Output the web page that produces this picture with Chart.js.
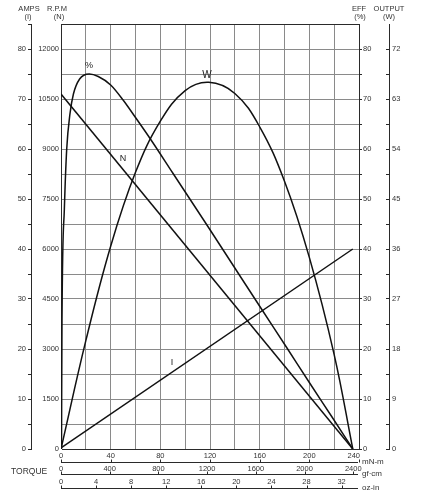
<!DOCTYPE html>
<html><head><meta charset="utf-8">
<script src="https://cdn.jsdelivr.net/npm/chart.js@4.4.1/dist/chart.umd.min.js"></script>
<style>html,body{margin:0;padding:0;background:#fff}canvas{display:block}</style>
</head><body>
<canvas id="c" width="424" height="500"></canvas>
<script>
// ---- data (torque in mN-m) ----
const speedTorque = [0, 235];
const speedRpm = [10650, 0];
const currentTorque = [0, 235];
const currentAmps = [0.2, 40];
const effTorque = [0.4, 0.8, 2.7, 4.6, 7.2, 10, 15, 22.8, 30, 40, 50, 60, 72, 90, 117, 140, 162, 182, 200, 218, 235];
const effPct    = [0, 26, 48, 60, 67, 71, 74, 75, 74.5, 72.8, 69.8, 66.3, 62, 55.2, 45, 36.2, 27.8, 20.2, 13.3, 6.5, 0];
const outTorque = [0, 20, 40, 60, 80, 100, 119, 140, 160, 180, 200, 220, 235];
const outWatts  = [0, 19.5, 36.5, 49.8, 59, 64.5, 66, 64, 58, 48.2, 34.5, 17, 0];

// ---- tick labels ----
const ampsLabels = [0, 10, 20, 30, 40, 50, 60, 70, 80];
const rpmLabels  = [0, 1500, 3000, 4500, 6000, 7500, 9000, 10500, 12000];
const effLabels  = [0, 10, 20, 30, 40, 50, 60, 70, 80];
const outLabels  = [0, 9, 18, 27, 36, 45, 54, 63, 72];
const mNmLabels  = [0, 40, 80, 120, 160, 200, 240];
const gfcmLabels = [0, 400, 800, 1200, 1600, 2000, 2400];
const ozinLabels = [0, 4, 8, 12, 16, 20, 24, 28, 32];

const FONT = "'Liberation Sans', Arial, Helvetica, sans-serif";
const TXT = '#333';
const GRID = '#8a8a8a';
const FRAME = '#2a2a2a';

function pts(xs, ys) { return xs.map((v, i) => ({ x: v, y: ys[i] })); }
function steps(a, b, s) { const r = []; for (let v = a; v <= b + 1e-9; v += s) r.push({ value: +v.toFixed(4) }); return r; }
function has(arr, v) { return arr.some(a => Math.abs(a - v) < 1e-6); }

const lineStyle = { borderColor: '#111', borderWidth: 1.5, pointRadius: 0, fill: false };

const annot = {
  id: 'annot',
  afterDraw(chart) {
    const { ctx } = chart;
    const { x, yA, yR, yE, yO } = chart.scales;
    ctx.save();
    ctx.fillStyle = TXT;
    ctx.strokeStyle = FRAME;
    ctx.lineWidth = 1;
    ctx.textBaseline = 'middle';
    ctx.textAlign = 'center';

    // axis headers
    ctx.font = '7.5px ' + FONT;
    ctx.fillText('AMPS', yA.right - 2, 8.5);
    ctx.fillText('(I)', yA.right - 3, 17);
    ctx.fillText('R.P.M', yR.right - 4, 8.5);
    ctx.fillText('(N)', yR.right - 2, 17);
    ctx.fillText('EFF', yE.left, 8.5);
    ctx.fillText('(%)', yE.left + 1, 17);
    ctx.fillText('OUTPUT', yO.left, 8.5);
    ctx.fillText('(W)', yO.left, 17);

    // torque rulers
    const base = x.top;
    const rows = [
      { vals: mNmLabels, k: 1, unit: 'mN-m', ly: 7, line: 13 },
      { vals: gfcmLabels, k: 0.0980665, unit: 'gf\u00b7cm', ly: 20, line: 25 },
      { vals: ozinLabels, k: 7.0616, unit: 'oz-in', ly: 33, line: 39 }
    ];
    rows.forEach((r, ri) => {
      const yl = Math.round(base + r.line) + 0.5;
      ctx.beginPath();
      ctx.moveTo(x.left, yl); ctx.lineTo(x.right - 1, yl);
      ctx.stroke();
      ctx.font = '7.5px ' + FONT;
      r.vals.forEach((v, i) => {
        const px = x.getPixelForValue(v * r.k);
        const tx = Math.round(px) + 0.5;
        ctx.beginPath(); ctx.moveTo(tx, yl - 3); ctx.lineTo(tx, yl); ctx.stroke();
        const last = ri === 0 && i === r.vals.length - 1;
        ctx.textAlign = last ? 'right' : 'center';
        ctx.fillText(String(v), last ? px + 1 : px, base + r.ly);
      });
      ctx.textAlign = 'left';
      ctx.font = '8px ' + FONT;
      ctx.fillText(r.unit, x.right + 3, yl - 0.5);
    });
    ctx.textAlign = 'left';
    ctx.font = '8.5px ' + FONT;
    ctx.fillText('TORQUE', 11, base + 23);

    // curve labels
    ctx.fillStyle = '#222';
    ctx.textAlign = 'center';
    ctx.font = '9px ' + FONT;
    ctx.fillText('%', x.getPixelForValue(22.6), yE.getPixelForValue(76.6));
    ctx.font = '10px ' + FONT;
    ctx.fillText('W', x.getPixelForValue(117.6), yE.getPixelForValue(74.8));
    ctx.font = '9px ' + FONT;
    ctx.fillText('N', x.getPixelForValue(50), yR.getPixelForValue(8700));
    ctx.fillText('I', x.getPixelForValue(89.4), yA.getPixelForValue(17.2));
    ctx.restore();
  }
};

new Chart(document.getElementById('c'), {
  type: 'line',
  data: {
    datasets: [
      Object.assign({ label: 'N', data: pts(speedTorque, speedRpm), yAxisID: 'yR', tension: 0 }, lineStyle),
      Object.assign({ label: 'I', data: pts(currentTorque, currentAmps), yAxisID: 'yA', tension: 0 }, lineStyle),
      Object.assign({ label: '%', data: pts(effTorque, effPct), yAxisID: 'yE', cubicInterpolationMode: 'monotone' }, lineStyle),
      Object.assign({ label: 'W', data: pts(outTorque, outWatts), yAxisID: 'yO', tension: 0.4 }, lineStyle)
    ]
  },
  options: {
    responsive: false,
    animation: false,
    events: [],
    layout: { padding: { top: 24, left: 0, right: 0, bottom: 0 } },
    plugins: { legend: { display: false }, tooltip: { enabled: false } },
    scales: {
      x: {
        type: 'linear', position: 'bottom', min: 0, max: 240, weight: 0,
        afterBuildTicks: s => { s.ticks = steps(0, 240, 20); },
        afterFit: s => { s.height = 51; },
        ticks: { display: false },
        border: { display: false },
        grid: { drawTicks: false, lineWidth: 1,
          color: c => (c.tick && (c.tick.value === 0 || c.tick.value === 240)) ? FRAME : GRID }
      },
      yR: {
        type: 'linear', position: 'left', min: 0, max: 12750, weight: 0,
        afterBuildTicks: s => { s.ticks = rpmLabels.map(v => ({ value: v })); },
        afterFit: s => { s.width = 30; },
        grid: { display: false, drawTicks: false },
        border: { display: false },
        ticks: { padding: 2, color: TXT, font: { family: FONT, size: 7.5 }, callback: v => has(rpmLabels, v) ? String(v) : '' }
      },
      yA: {
        type: 'linear', position: 'left', min: 0, max: 85, weight: 1,
        afterBuildTicks: s => { s.ticks = steps(0, 85, 5); },
        afterFit: s => { s.width = 31; },
        grid: { drawOnChartArea: true, drawTicks: true, tickLength: 3, tickColor: FRAME,
          color: c => (c.tick && (c.tick.value === 0 || c.tick.value === 85)) ? FRAME : GRID },
        border: { display: true, color: FRAME, width: 1 },
        ticks: { padding: 2, color: TXT, font: { family: FONT, size: 7.5 }, callback: v => has(ampsLabels, v) ? String(v) : '' }
      },
      yE: {
        type: 'linear', position: 'right', min: 0, max: 85, weight: 0,
        afterBuildTicks: s => { s.ticks = steps(0, 80, 5); },
        afterFit: s => { s.width = 30; },
        grid: { drawOnChartArea: false, drawTicks: true, tickLength: 3, tickColor: FRAME },
        border: { display: false },
        ticks: { padding: 1, color: TXT, font: { family: FONT, size: 7.5 }, callback: v => has(effLabels, v) ? String(v) : '' }
      },
      yO: {
        type: 'linear', position: 'right', min: 0, max: 76.5, weight: 1,
        afterBuildTicks: s => { s.ticks = steps(0, 72, 4.5); },
        afterFit: s => { s.width = 35; },
        grid: { drawOnChartArea: false, drawTicks: true, tickLength: -3, tickColor: FRAME },
        border: { display: true, color: FRAME, width: 1 },
        ticks: { padding: 6, color: TXT, font: { family: FONT, size: 7.5 }, callback: v => has(outLabels, v) ? String(v) : '' }
      }
    }
  },
  plugins: [annot]
});
</script>
</body></html>
